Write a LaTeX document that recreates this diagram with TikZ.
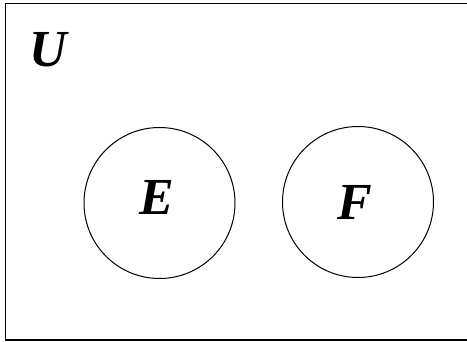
\documentclass[tikz,border=0pt]{standalone}
\usepackage{fontspec}
\setmainfont{Liberation Serif}
\begin{document}
\begin{tikzpicture}[x=1pt,y=-1pt,
  setlabel/.style={font=\fontsize{52}{56}\selectfont\bfseries\itshape, inner sep=0pt},
  setcircle/.style={draw, circle, line width=1pt, minimum size=151pt, inner sep=0pt}]
  \useasboundingbox (0,0) rectangle (467,342);
  % universe, its right side lies past the edge
  \draw[line width=1.6pt] (5.5,3.5) rectangle (470,340);
  \node[setlabel] (u) at (48,50) {U};
  % the two sets
  \node[setcircle] (e) at (159.5,203) {};
  \node[setcircle] (f) at (358,202) {};
  \node[setlabel] (el) at (157,197) {E};
  \node[setlabel] (fl) at (355,202) {F};
\end{tikzpicture}
\end{document}
